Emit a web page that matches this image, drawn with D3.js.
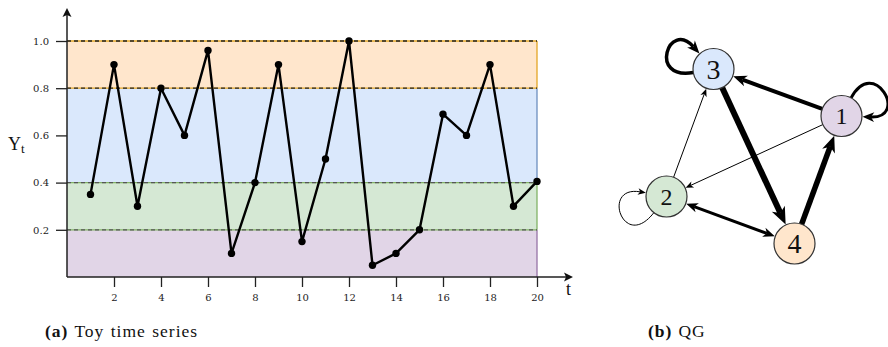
<!DOCTYPE html>
<html>
<head>
<meta charset="utf-8">
<script src="https://cdn.jsdelivr.net/npm/d3@7"></script>
<style>
  html, body { margin: 0; padding: 0; background: #fff; }
  svg { display: block; }
  .tick text { font-family: 'DejaVu Serif', serif; font-size: 10px; fill: #222; }
  .tick line { stroke: #222; stroke-width: 1.3; }
  .serif { font-family: 'Liberation Serif', 'Times New Roman', serif; }
</style>
</head>
<body>
<svg id="fig" width="888" height="347"></svg>
<script>
// ---- toy time series ----
const times = d3.range(1, 21);
const values = [0.35, 0.90, 0.30, 0.80, 0.60, 0.96, 0.10, 0.40, 0.90, 0.15,
                0.50, 1.00, 0.05, 0.10, 0.20, 0.69, 0.60, 0.90, 0.30, 0.405];
const xTicks = [2, 4, 6, 8, 10, 12, 14, 16, 18, 20];
const yTicks = [0.2, 0.4, 0.6, 0.8, 1.0];

// quantisation bands: [low, high], state id
const bandLow  = [0.0, 0.2, 0.4, 0.8];
const bandHigh = [0.2, 0.4, 0.8, 1.0];
const bandState = [1, 2, 3, 4];
const dashedLevels = [0.2, 0.4, 0.8, 1.0];

// ---- quantile graph ----
const stateIds = [1, 2, 3, 4];
// edges: source, target, weight (drawn as line thickness)
const edgeSource = [1, 1, 3, 4, 2, 2, 3, 1, 2];
const edgeTarget = [3, 2, 4, 1, 3, 4, 3, 1, 2];
const edgeWeight = [4.0, 1.0, 6.0, 5.5, 1.0, 3.0, 3.5, 3.0, 1.0];
const edgeBothWays = [false, false, false, false, false, true, false, false, false];

// ---- styling ----
const stateFill   = {1: "#e1d5e7", 2: "#d5e8d4", 3: "#dae8fc", 4: "#ffe6cc"};
const stateStroke = {1: "#9673a6", 2: "#82b366", 3: "#6c8ebf", 4: "#e3a626"};

const svg = d3.select("#fig");

// ================= panel (a) =================
const x = d3.scaleLinear().domain([0, 20]).range([67, 537]);
const y = d3.scaleLinear().domain([0, 1]).range([277, 41]);

const gA = svg.append("g");

// coloured bands
gA.selectAll("rect.band").data(bandState).join("rect")
  .attr("class", "band")
  .attr("x", x(0))
  .attr("width", x(20) - x(0))
  .attr("y", (d, i) => y(bandHigh[i]))
  .attr("height", (d, i) => y(bandLow[i]) - y(bandHigh[i]))
  .attr("fill", d => stateFill[d]);

// right edges of bands in the band stroke colour
gA.selectAll("line.bandEdge").data(bandState).join("line")
  .attr("x1", x(20)).attr("x2", x(20))
  .attr("y1", (d, i) => y(bandHigh[i]))
  .attr("y2", (d, i) => y(bandLow[i]))
  .attr("stroke", d => stateStroke[d])
  .attr("stroke-width", 1.3);

// band boundaries: coloured solid line under a dark dashed one
const levelColour = {0.2: "#82b366", 0.4: "#82b366", 0.8: "#e3a626", 1.0: "#e3a626"};
const levelDash = {0.2: "#555", 0.4: "#555", 0.8: "#222", 1.0: "#222"};
gA.selectAll("line.levelSolid").data(dashedLevels).join("line")
  .attr("x1", x(0)).attr("x2", x(20))
  .attr("y1", d => y(d)).attr("y2", d => y(d))
  .attr("stroke", d => levelColour[d]).attr("stroke-width", 1.3);
gA.selectAll("line.levelDash").data(dashedLevels).join("line")
  .attr("x1", x(0)).attr("x2", x(20))
  .attr("y1", d => y(d)).attr("y2", d => y(d))
  .attr("stroke", d => levelDash[d]).attr("stroke-width", 1.3)
  .attr("stroke-dasharray", "4,3");

// axes (ticks only, the arrowed spines are drawn separately)
const xAxis = d3.axisBottom(x).tickValues(xTicks).tickSize(10).tickPadding(7).tickFormat(d3.format("d"));
const yAxis = d3.axisLeft(y).tickValues(yTicks).tickSize(11).tickPadding(7).tickFormat(d3.format(".1f"));
gA.append("g").attr("transform", `translate(0,${y(0)})`).call(xAxis)
  .attr("font-family", null).call(g => g.select(".domain").remove());
gA.append("g").attr("transform", `translate(${x(0)},0)`).call(yAxis)
  .attr("font-family", null).call(g => g.select(".domain").remove());

// spines with arrowheads
gA.append("path")
  .attr("d", `M${x(0)},${y(0)} V14 M${x(0)},${y(0)} H566`)
  .attr("stroke", "#222").attr("stroke-width", 1.5).attr("fill", "none");
gA.append("path")
  .attr("d", `M${x(0)},8 L${x(0) - 4.5},17 L${x(0)},15 L${x(0) + 4.5},17 Z`)
  .attr("fill", "#111");
gA.append("path")
  .attr("d", `M573,${y(0)} L564,${y(0) - 4.5} L566,${y(0)} L564,${y(0) + 4.5} Z`)
  .attr("fill", "#111");

// axis names
gA.append("text").attr("class", "serif").attr("x", 566).attr("y", 295)
  .attr("font-size", 18).attr("fill", "#111")
  .text("t");
const yLab = gA.append("text").attr("class", "serif").attr("x", 8).attr("y", 150)
  .attr("font-size", 18).attr("fill", "#111");
yLab.append("tspan").text("Y");
yLab.append("tspan").attr("font-size", 13).attr("dy", 3).text("t");

// series
const series = times.map((t, i) => [t, values[i]]);
gA.append("path").datum(series)
  .attr("d", d3.line().x(d => x(d[0])).y(d => y(d[1])))
  .attr("fill", "none").attr("stroke", "#000").attr("stroke-width", 2.4)
  .attr("stroke-linejoin", "round");
gA.selectAll("circle.pt").data(series).join("circle")
  .attr("cx", d => x(d[0])).attr("cy", d => y(d[1])).attr("r", 3.7)
  .attr("fill", "#000");

// caption
const capA = gA.append("text").attr("class", "serif").attr("x", 45).attr("y", 337)
  .attr("font-size", 17.5).attr("fill", "#111")
  .attr("letter-spacing", 1.0).attr("word-spacing", 1);
capA.append("tspan").attr("font-weight", "bold").text("(a)");
capA.append("tspan").attr("dx", 6).text("Toy time series");

// ================= panel (b) =================
const nodePos = {1: [841.5, 116], 2: [666.5, 196.5], 3: [713.5, 69], 4: [794.5, 243.5]};
const nodeR = 20.5;
const labelSize = {1: 24, 2: 24, 3: 28, 4: 28};
// self-loop geometry: leaving angle, arriving angle (degrees), reach
const loopShape = {3: [170, 228, 46], 1: [-62, 2, 48], 2: [128, 190, 50]};

const width = d3.scaleLinear().domain([1, 6]).range([1, 6]);
const gB = svg.append("g");

const unit = a => [Math.cos(a * Math.PI / 180), Math.sin(a * Math.PI / 180)];

function arrowHead(tip, dir, w) {
  const L = 6 + 1.9 * w, W = 5 + 1.55 * w;
  const n = [-dir[1], dir[0]];
  const b = [tip[0] - L * dir[0], tip[1] - L * dir[1]];
  const notch = [tip[0] - 0.72 * L * dir[0], tip[1] - 0.72 * L * dir[1]];
  return {
    d: `M${tip[0]},${tip[1]} L${b[0] + n[0] * W / 2},${b[1] + n[1] * W / 2} L${notch[0]},${notch[1]} L${b[0] - n[0] * W / 2},${b[1] - n[1] * W / 2} Z`,
    notch
  };
}

const edges = edgeSource.map((s, i) => ({s, t: edgeTarget[i], w: width(edgeWeight[i]), both: edgeBothWays[i]}));

edges.forEach(e => {
  const c1 = nodePos[e.s], c2 = nodePos[e.t];
  if (e.s === e.t) {
    const [a1, a2, k] = loopShape[e.s];
    const u1 = unit(a1), u2 = unit(a2);
    const p0 = [c1[0] + nodeR * u1[0], c1[1] + nodeR * u1[1]];
    const tip = [c1[0] + (nodeR + 0.5) * u2[0], c1[1] + (nodeR + 0.5) * u2[1]];
    const head = arrowHead(tip, [-u2[0], -u2[1]], e.w);
    const p3 = head.notch;
    const p1 = [p0[0] + k * u1[0], p0[1] + k * u1[1]];
    const p2 = [p3[0] + k * 0.8 * u2[0], p3[1] + k * 0.8 * u2[1]];
    gB.append("path")
      .attr("d", `M${p0[0]},${p0[1]} C${p1[0]},${p1[1]} ${p2[0]},${p2[1]} ${p3[0]},${p3[1]}`)
      .attr("fill", "none").attr("stroke", "#000").attr("stroke-width", e.w);
    gB.append("path").attr("d", head.d).attr("fill", "#000");
  } else {
    const dx = c2[0] - c1[0], dy = c2[1] - c1[1], len = Math.hypot(dx, dy);
    const d = [dx / len, dy / len];
    const tip = [c2[0] - (nodeR + 0.5) * d[0], c2[1] - (nodeR + 0.5) * d[1]];
    const head = arrowHead(tip, d, e.w);
    let start = [c1[0] + nodeR * d[0], c1[1] + nodeR * d[1]];
    if (e.both) {
      const tip0 = [c1[0] + (nodeR + 0.5) * d[0], c1[1] + (nodeR + 0.5) * d[1]];
      const head0 = arrowHead(tip0, [-d[0], -d[1]], e.w);
      gB.append("path").attr("d", head0.d).attr("fill", "#000");
      start = head0.notch;
    }
    gB.append("line")
      .attr("x1", start[0]).attr("y1", start[1])
      .attr("x2", head.notch[0]).attr("y2", head.notch[1])
      .attr("stroke", "#000").attr("stroke-width", e.w);
    gB.append("path").attr("d", head.d).attr("fill", "#000");
  }
});

const nodes = gB.selectAll("g.node").data(stateIds).join("g")
  .attr("transform", d => `translate(${nodePos[d][0]},${nodePos[d][1]})`);
nodes.append("circle").attr("r", nodeR)
  .attr("fill", d => stateFill[d]).attr("stroke", "#333").attr("stroke-width", 1.2);
nodes.append("text").attr("class", "serif")
  .attr("text-anchor", "middle").attr("dy", "0.34em")
  .attr("font-size", d => labelSize[d]).attr("fill", "#111")
  .text(d => d);

const capB = gB.append("text").attr("class", "serif").attr("x", 648).attr("y", 337)
  .attr("font-size", 17.5).attr("fill", "#111")
  .attr("letter-spacing", 1.0).attr("word-spacing", 1);
capB.append("tspan").attr("font-weight", "bold").text("(b)");
capB.append("tspan").attr("dx", 6).text("QG");
</script>
</body>
</html>
